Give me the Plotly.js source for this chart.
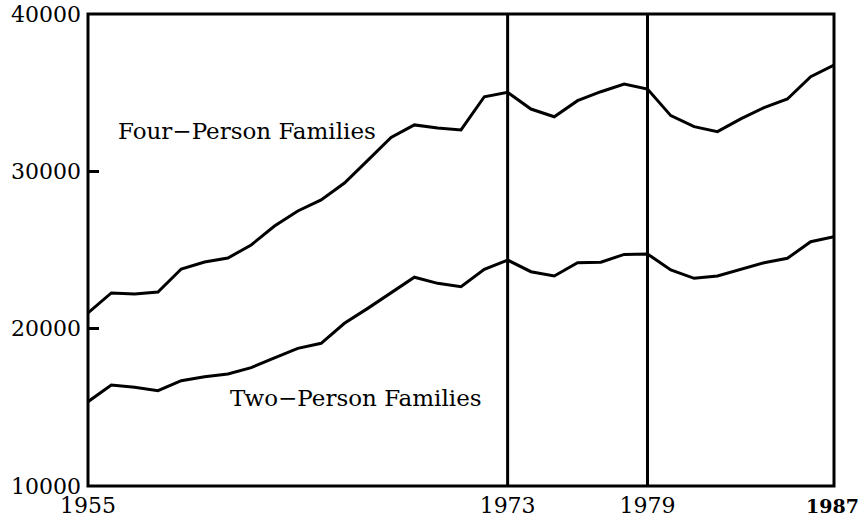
<!DOCTYPE html>
<html>
<head>
<meta charset="utf-8">
<script src="https://cdn.plot.ly/plotly-3.0.1.min.js"></script>
<style>html,body{margin:0;padding:0;background:#fff;}#chart{width:868px;height:521px;}</style>
</head>
<body>
<div id="chart"></div>
<script>
const years = [1955,1956,1957,1958,1959,1960,1961,1962,1963,1964,1965,1966,1967,1968,1969,1970,1971,1972,1973,1974,1975,1976,1977,1978,1979,1980,1981,1982,1983,1984,1985,1986,1987];
const fourPerson = [21000,22270,22200,22330,23790,24240,24490,25320,26520,27480,28180,29260,30700,32150,32950,32750,32630,34740,35020,33960,33470,34490,35060,35550,35230,33540,32840,32520,33330,34050,34600,36020,36760];
const twoPerson = [15360,16420,16270,16060,16690,16950,17120,17520,18150,18750,19070,20340,21290,22290,23270,22880,22670,23770,24360,23620,23350,24190,24220,24720,24750,23730,23200,23350,23770,24190,24470,25530,25850];
const breakYears = [1973, 1979];
const xTickVals = [1955, 1973, 1979];
const xTickText = ['1955', '1973', '1979'];
const endYear = 1987;
const yTickVals = [10000, 20000, 30000, 40000];
const yTickText = ['10000', '20000', '30000', '40000'];
const seriesLabels = ['Four\u2212Person Families', 'Two\u2212Person Families'];

const FONT = 'DejaVu Serif, Liberation Serif, serif';

const traces = [
  {x: years, y: fourPerson, type: 'scatter', mode: 'lines', line: {color: '#000', width: 3}, hoverinfo: 'skip'},
  {x: years, y: twoPerson, type: 'scatter', mode: 'lines', line: {color: '#000', width: 3}, hoverinfo: 'skip'}
];

const shapes = breakYears.map(yr => ({
  type: 'line', xref: 'x', yref: 'paper', x0: yr, x1: yr, y0: 0, y1: 1,
  line: {color: '#000', width: 3}
}));
shapes.push({type: 'rect', xref: 'paper', yref: 'paper', x0: 0, x1: 1, y0: 0, y1: 1, line: {color: '#000', width: 3}});

const layout = {
  width: 868, height: 521,
  margin: {l: 88, r: 34, t: 14, b: 35},
  paper_bgcolor: '#fff', plot_bgcolor: '#fff',
  showlegend: false,
  font: {family: FONT, size: 22, color: '#000'},
  xaxis: {
    range: [1955, 1987], showgrid: false, zeroline: false, showline: false,
    tickvals: xTickVals, ticktext: xTickText, ticks: '',
    tickfont: {family: FONT, size: 22, color: '#000'}, ticklabelstandoff: 4
  },
  yaxis: {
    range: [10000, 40000], showgrid: false, zeroline: false, showline: false,
    tickvals: yTickVals, ticktext: yTickText,
    ticks: 'inside', ticklen: 11, tickwidth: 3, tickcolor: '#000',
    tickfont: {family: FONT, size: 22, color: '#000'}, ticklabelstandoff: 6
  },
  shapes: shapes,
  annotations: [
    {x: 1956.2, y: 32560, xref: 'x', yref: 'y', text: seriesLabels[0], showarrow: false, xanchor: 'left', yanchor: 'middle', font: {family: FONT, size: 23, color: '#000'}},
    {x: 1961, y: 15600, xref: 'x', yref: 'y', text: seriesLabels[1], showarrow: false, xanchor: 'left', yanchor: 'middle', font: {family: FONT, size: 23, color: '#000'}},
    {x: endYear, y: 0, xref: 'x', yref: 'paper', text: '<b>' + endYear + '</b>', showarrow: false, xanchor: 'right', xshift: 27, yanchor: 'top', yshift: -7, font: {family: FONT, size: 19, color: '#000'}}
  ]
};

Plotly.newPlot('chart', traces, layout, {staticPlot: true, displayModeBar: false});
</script>
</body>
</html>
